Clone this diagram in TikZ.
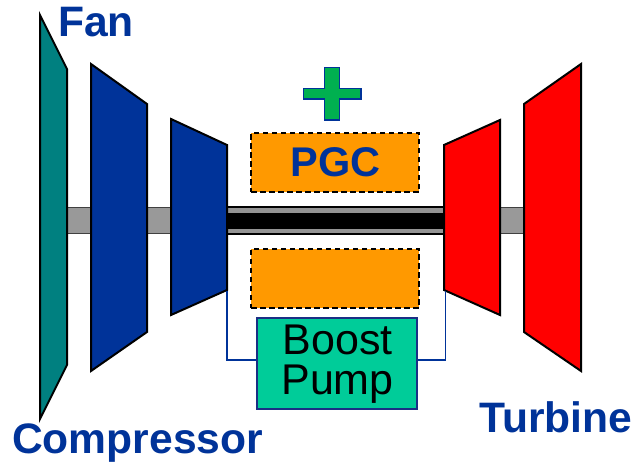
\documentclass[tikz,border=0pt]{standalone}
\usepackage{fontspec}
\setmainfont{Liberation Sans}
\definecolor{navy}{HTML}{003399}
\definecolor{pumpedge}{HTML}{1A2F85}
\definecolor{tealfan}{HTML}{008080}
\definecolor{pgcorange}{HTML}{FF9900}
\definecolor{pumpgreen}{HTML}{00CC99}
\definecolor{plusgreen}{HTML}{00B050}
\tikzset{
  blade/.style={draw=black,line width=2pt,line join=miter,miter limit=10},
  pgcbox/.style={draw=black,fill=pgcorange,line width=2.2pt,dash pattern=on 5.5pt off 3.5pt,inner sep=0pt,anchor=north west,minimum width=168pt,minimum height=59pt},
  bigtext/.style={font=\bfseries\fontsize{42.6}{42.6}\selectfont,text=navy,inner sep=0pt},
  pipe/.style={draw=navy,line width=1.2pt},
}
\begin{document}
\begin{tikzpicture}[x=1pt,y=-1pt]
\useasboundingbox (0,0) rectangle (633,463);
% shafts
\draw[draw=black!75,fill=black!40,line width=1.5pt] (67,207.5) rectangle (524,233.5);
\draw[draw=black,fill=black!42,line width=2pt] (227,207) rectangle (444,234);
\fill[black] (227,213) rectangle (444,228.5);
% blades
\filldraw[blade,fill=tealfan] (40,15) -- (67,69) -- (67,365) -- (40,419) -- cycle;
\filldraw[blade,fill=navy] (91,64) -- (147,104) -- (147,332) -- (91,371) -- cycle;
\filldraw[blade,fill=navy] (171,119) -- (227,145) -- (227,290) -- (171,315) -- cycle;
\filldraw[blade,fill=red] (444,145) -- (500,120) -- (500,315) -- (444,290) -- cycle;
\filldraw[blade,fill=red] (524,104) -- (581,64) -- (581,371) -- (524,332) -- cycle;
% combustor
\node[pgcbox] (pgctop) at (250,132) {};
\node[pgcbox] (pgcbot) at (250,247.5) {};
\node[bigtext,font=\bfseries\fontsize{41.5}{41.5}\selectfont] (pgc) at (335.5,162.5) {PGC};
% plus
\filldraw[draw=navy,fill=plusgreen,line width=1.3pt]
  (324.5,67.5) -- (339.5,67.5) -- (339.5,88.5) -- (361,88.5) -- (361,99) -- (339.5,99)
  -- (339.5,120) -- (324.5,120) -- (324.5,99) -- (303.5,99) -- (303.5,88.5) -- (324.5,88.5) -- cycle;
% pump
\coordinate (tapl) at (227,291);
\coordinate (tapr) at (445.5,291);
\node[draw=pumpedge,fill=pumpgreen,line width=2pt,minimum width=160pt,minimum height=91pt,inner sep=0pt,anchor=north west] (pump) at (255.5,317) {};
\node[align=center,inner sep=0pt,font=\fontsize{43}{40}\selectfont] (pumptext) at (337.5,364) {Boost\\Pump};
\draw[pipe] (tapl) |- (pump.west |- 0,360);
\draw[pipe] (tapr) |- (pump.east |- 0,360);
% labels
\node[bigtext,anchor=base west] (fan) at (58,37) {Fan};
\node[bigtext,anchor=base west] (comp) at (12,453) {Compressor};
\node[bigtext,anchor=base west] (turb) at (479,432) {Turbine};
\end{tikzpicture}
\end{document}
